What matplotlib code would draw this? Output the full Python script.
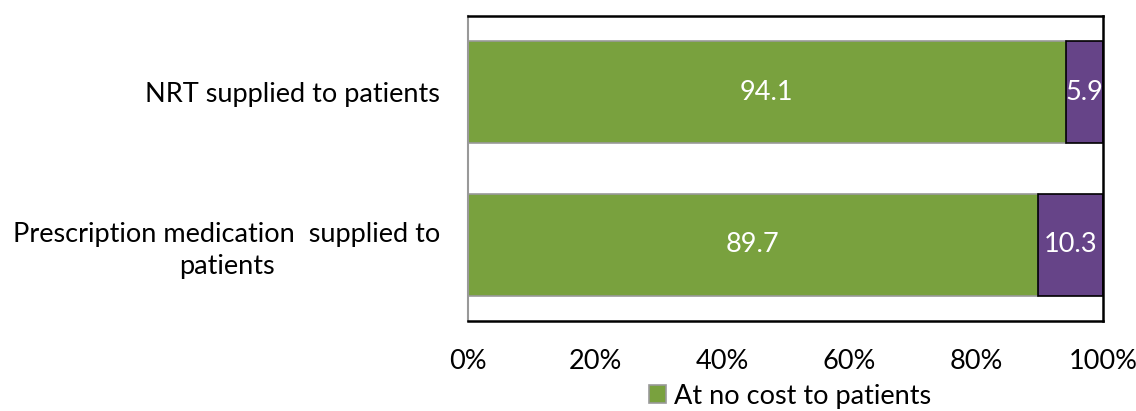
import matplotlib
matplotlib.use("Agg")
import matplotlib.pyplot as plt

categories = ["NRT supplied to patients", "Prescription medication  supplied to\npatients"]
no_cost = [94.1, 89.7]
with_cost = [5.9, 10.3]
xticks = [0, 20, 40, 60, 80, 100]
xtick_labels = ["0%", "20%", "40%", "60%", "80%", "100%"]

plt.rcParams['font.family'] = ['Lato', 'DejaVu Sans']

fig = plt.figure(figsize=(11.36, 4.11), dpi=100)
ax = fig.add_axes([468/1136, 1-321/411, (1103-468)/1136, (321-16)/411])

green = "#79A13E"
purple = "#664488"
ypos = [0, 1]
h = 0.67
b1 = ax.barh(ypos, no_cost, height=h, color=green, edgecolor="#999999", linewidth=1.2,
             label="At no cost to patients")
b2 = ax.barh(ypos, with_cost, left=no_cost, height=h, color=purple, edgecolor="black", linewidth=1.2)

for i in range(len(categories)):
    ax.text(no_cost[i] / 2, ypos[i], f"{no_cost[i]:.1f}", color="white", ha="center", va="center", fontsize=19.5)
    ax.text(no_cost[i] + with_cost[i] / 2, ypos[i], f"{with_cost[i]:.1f}", color="white", ha="center", va="center", fontsize=19.5)

ax.set_xlim(0, 100)
ax.set_ylim(1.5, -0.5)
ax.set_yticks(ypos)
ax.set_yticklabels(categories, fontsize=19.5, ha="right", multialignment="center", linespacing=1.35)
ax.set_xticks(xticks)
ax.set_xticklabels(xtick_labels, fontsize=19.5)
ax.tick_params(axis="both", length=0)
ax.tick_params(axis="y", pad=20)
ax.tick_params(axis="x", pad=20)

ax.spines["left"].set_color("#999999")
ax.spines["left"].set_linewidth(1.5)
for s in ["right", "bottom", "top"]:
    ax.spines[s].set_color("black")
    ax.spines[s].set_linewidth(1.8)

fig.legend(handles=[b1], loc="center", bbox_to_anchor=(790/1136, 1-396/411), frameon=False,
           fontsize=19.5, handlelength=0.6, handleheight=0.6, handletextpad=0.3, borderpad=0)

fig.savefig("out.png", dpi=100)
